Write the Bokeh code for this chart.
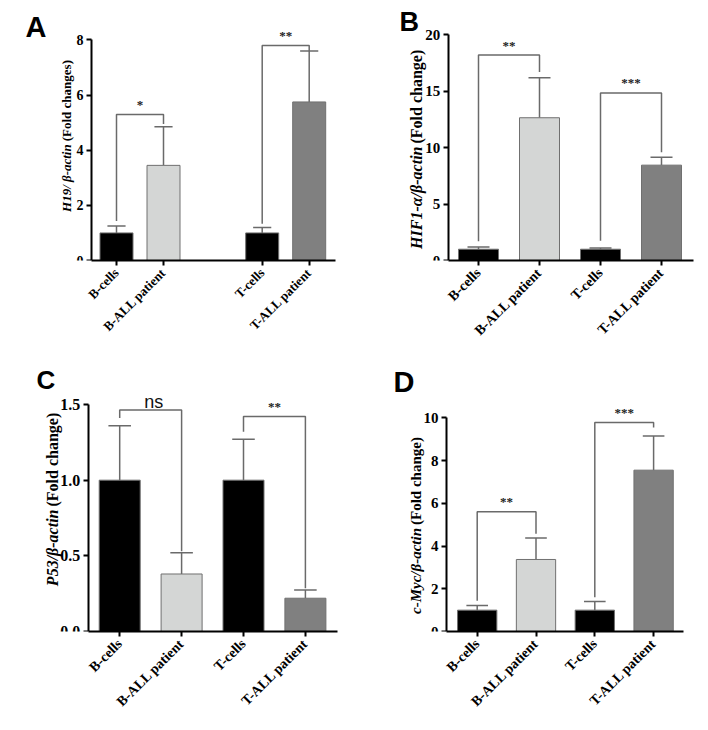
import math
from bokeh.plotting import figure
from bokeh.models import Label, FixedTicker, Range1d, PrintfTickFormatter
from bokeh.layouts import column, row
from bokeh.embed import file_html
from bokeh.resources import INLINE

# ---------------- data ----------------
groups = ["B-cells", "B-ALL patient", "T-cells", "T-ALL patient"]
bar_colors = ["#000000", "#d4d6d5", "#000000", "#808080"]

h19_mean = [1.0, 3.45, 1.0, 5.75]
h19_err = [0.25, 1.40, 0.20, 1.85]
hif_mean = [1.0, 12.65, 1.0, 8.45]
hif_err = [0.2, 3.55, 0.1, 0.70]
p53_mean = [1.0, 0.38, 1.0, 0.22]
p53_err = [0.36, 0.14, 0.27, 0.055]
myc_mean = [1.0, 3.37, 1.0, 7.55]
myc_err = [0.22, 1.00, 0.40, 1.60]

# significance brackets: bracket height, left leg end, right leg end, text
h19_sig_y = [5.29, 7.80]
h19_sig_left = [1.43, 1.33]
h19_sig_right = [4.95, 7.60]
h19_sig_text = ["*", "**"]

hif_sig_y = [18.2, 14.85]
hif_sig_left = [1.7, 1.75]
hif_sig_right = [16.7, 9.6]
hif_sig_text = ["**", "***"]

p53_sig_y = [1.463, 1.42]
p53_sig_left = [1.41, 1.32]
p53_sig_right = [0.53, 0.285]
p53_sig_text = ["ns", "**"]

myc_sig_y = [5.6, 9.78]
myc_sig_left = [1.44, 1.6]
myc_sig_right = [4.57, 9.55]
myc_sig_text = ["**", "***"]

sig_pairs = [(0, 1), (2, 3)]

h19_yticks = [0, 2, 4, 6, 8]
hif_yticks = [0, 5, 10, 15, 20]
p53_yticks = [0, 0.5, 1.0, 1.5]
myc_yticks = [0, 2, 4, 6, 8, 10]

GREY = "#6a6a6a"
SERIF = "Liberation Serif"
SANS = "Liberation Sans"
W, H = 354, 365


def panel(letter, means, errs, sig_y, sig_l, sig_r, sig_t, yticks, ymax,
          ylab_it, ylab_rest, cfg):
    pos = cfg["pos"]
    L = cfg["L"]
    bb = cfg["bb"]
    y0 = H - bb                      # pixel row of value 0 (frame bottom)
    ppu_y = (y0 - cfg["ytop"]) / ymax
    u = cfg["u"]                     # pixels per x unit
    c0 = cfg["c0"]                   # pixel column of first bar

    def px2x(px):
        return pos[0] + (px - c0) / u

    def px2y(py):
        return (y0 - py) / ppu_y

    xs, xe = px2x(L), px2x(W)
    p = figure(width=W, height=H, x_range=Range1d(xs, xe), y_range=Range1d(0, px2y(0)),
               output_backend="svg", toolbar_location=None,
               min_border_left=L, min_border_right=0, min_border_top=0, min_border_bottom=bb)
    p.outline_line_color = None
    p.xgrid.visible = False
    p.ygrid.visible = False
    p.background_fill_color = "white"
    p.border_fill_color = "white"

    bw = cfg["bwpx"] / u
    tops = [m + e for m, e in zip(means, errs)]
    cap = bw * 0.55
    p.segment(x0=pos, y0=means, x1=pos, y1=tops, line_color=GREY, line_width=1.5)
    p.segment(x0=[x - cap / 2 for x in pos], y0=tops, x1=[x + cap / 2 for x in pos], y1=tops,
              line_color=GREY, line_width=1.5)
    p.vbar(x=pos, top=means, width=bw, bottom=0, fill_color=bar_colors,
           line_color="#707070", line_width=1)

    for k, (i, j) in enumerate(sig_pairs):
        xl, xr_ = pos[i], pos[j]
        p.line(x=[xl, xl, xr_, xr_], y=[sig_l[k], sig_y[k], sig_y[k], sig_r[k]],
               line_color=GREY, line_width=1.5)
        if sig_t[k] == "ns":
            p.add_layout(Label(x=(xl + xr_) / 2, y=sig_y[k], x_offset=3, y_offset=8, text="ns",
                               text_align="center", text_baseline="alphabetic",
                               text_font=SANS, text_font_size="18px", text_color="#111111"))
        else:
            p.add_layout(Label(x=(xl + xr_) / 2, y=sig_y[k], y_offset=10, text=sig_t[k],
                               text_align="center", text_baseline="alphabetic",
                               text_font=SERIF, text_font_style="bold",
                               text_font_size="13px", text_color="#222222"))

    for ax in (p.xaxis[0], p.yaxis[0]):
        ax.axis_line_width = 2
        ax.axis_line_color = "black"
        ax.major_tick_line_width = 2
        ax.major_tick_line_color = "black"
        ax.major_tick_in = 0
        ax.major_tick_out = 5
        ax.minor_tick_line_color = None
        ax.major_label_text_font = SERIF
        ax.major_label_text_font_style = "bold"
        ax.major_label_text_color = "black"
    p.xaxis.major_label_text_font_size = cfg["tfs"]
    p.yaxis.major_label_text_font_size = cfg["yfs"]
    p.xaxis.ticker = FixedTicker(ticks=pos)
    p.xaxis.major_label_overrides = {x: g for x, g in zip(pos, groups)}
    p.xaxis.major_label_orientation = math.pi / 4
    p.xaxis.major_label_standoff = 5
    p.xaxis.bounds = (px2x(cfg["a"]), px2x(cfg["xend"]))
    p.yaxis.ticker = FixedTicker(ticks=yticks)
    p.yaxis.major_label_standoff = 3
    p.yaxis.bounds = (0, ymax)
    p.yaxis.fixed_location = px2x(cfg["a"])
    if cfg.get("fmt"):
        p.yaxis.formatter = PrintfTickFormatter(format=cfg["fmt"])

    lx, jy = px2x(cfg["lx"]), px2y(cfg["jy"])
    p.add_layout(Label(x=lx, y=jy, text=ylab_it,
                       angle=math.pi / 2, text_align="right", text_baseline="middle",
                       text_font=SERIF, text_font_style="bold italic",
                       text_font_size=cfg["lfs"], text_color="black"))
    p.add_layout(Label(x=lx, y=jy, y_offset=3, text=ylab_rest,
                       angle=math.pi / 2, text_align="left", text_baseline="middle",
                       text_font=SERIF, text_font_style="bold",
                       text_font_size=cfg["lfs"], text_color="black"))
    p.add_layout(Label(x=px2x(cfg["ax"]), y=px2y(cfg["ay"]), text=letter,
                       text_align="left", text_baseline="alphabetic",
                       text_font=SANS, text_font_style="bold",
                       text_font_size=cfg["afs"], text_color="black"))
    return p


# layout constants (pixels inside each 354x365 panel)
cfgA = dict(pos=[10, 20, 41, 51], u=4.7, c0=116, bwpx=33, L=20, bb=101, ytop=40,
            a=91, xend=335, tfs="13px", yfs="14px", lfs="13px", lx=66, jy=146,
            ax=25, ay=27, afs="29px")
cfgB = dict(pos=[1, 2, 3, 4], u=61.0, c0=124, bwpx=40, L=30, bb=105, ytop=34.3,
            a=93.7, xend=339, tfs="14px", yfs="15px", lfs="16px", lx=61.7, jy=146,
            ax=45, ay=21, afs="27px")
cfgC = dict(pos=[1, 2, 3, 4], u=61.9, c0=119.2, bwpx=41, L=30, bb=99, ytop=39,
            a=87.7, xend=337, tfs="14px", yfs="16px", lfs="16px", lx=51.7, jy=144,
            ax=36, ay=14, afs="26px", fmt="%.1f")
cfgD = dict(pos=[1, 2, 3, 4], u=58.8, c0=122.7, bwpx=39.3, L=30, bb=99, ytop=52.3,
            a=92, xend=329, tfs="14px", yfs="15px", lfs="15px", lx=61, jy=162.5,
            ax=39, ay=16, afs="29px")

pA = panel("A", h19_mean, h19_err, h19_sig_y, h19_sig_left, h19_sig_right, h19_sig_text,
           h19_yticks, 8, "H19/ \u03b2-actin", "(Fold changes)", cfgA)
pB = panel("B", hif_mean, hif_err, hif_sig_y, hif_sig_left, hif_sig_right, hif_sig_text,
           hif_yticks, 20, "HIF1-\u03b1/\u03b2-actin", "(Fold change)", cfgB)
pC = panel("C", p53_mean, p53_err, p53_sig_y, p53_sig_left, p53_sig_right, p53_sig_text,
           p53_yticks, 1.5, "P53/\u03b2-actin", "(Fold change)", cfgC)
pD = panel("D", myc_mean, myc_err, myc_sig_y, myc_sig_left, myc_sig_right, myc_sig_text,
           myc_yticks, 10, "c-Myc/\u03b2-actin", "(Fold change)", cfgD)

layout = column(row(pA, pB), row(pC, pD))
open("out.html", "w").write(file_html(layout, INLINE))
